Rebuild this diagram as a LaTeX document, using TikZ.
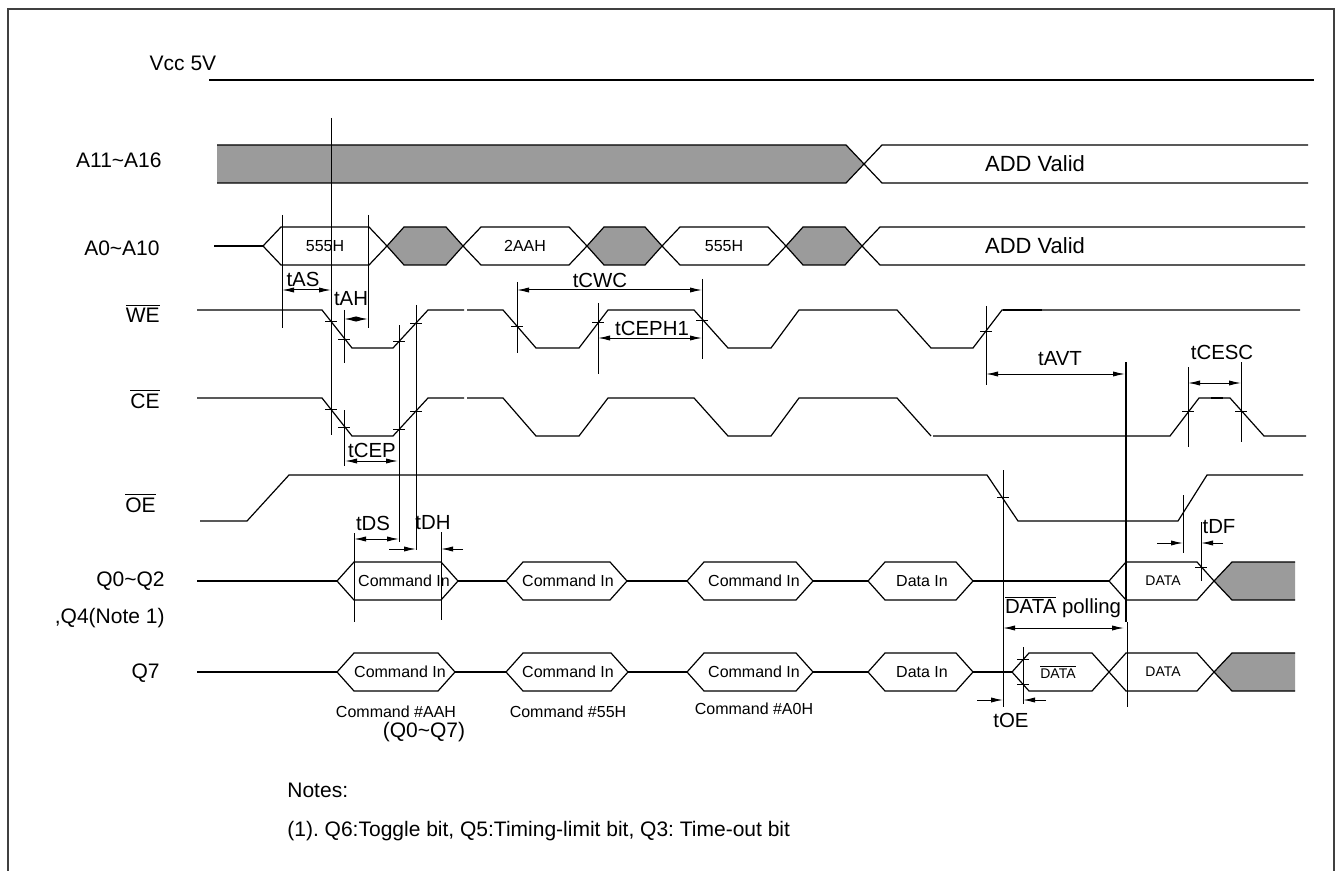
\documentclass[tikz,border=0pt]{standalone}
\usepackage{fontspec}
\setmainfont{Liberation Sans}
\frenchspacing
\usetikzlibrary{arrows.meta}
\definecolor{busgray}{RGB}{155,155,155}
\tikzstyle{frame}=[draw=black!75,line width=1pt]
\tikzstyle{signal}=[draw,line width=0.6pt]
\tikzstyle{bus}=[draw,line width=0.6pt,fill=white]
\tikzstyle{invalid}=[draw,line width=0.6pt,fill=busgray]
\tikzstyle{guide}=[draw,line width=0.4pt]
\tikzstyle{dim}=[draw,line width=0.5pt,{Latex[length=6pt,width=2.6pt]}-{Latex[length=6pt,width=2.6pt]}]
\tikzstyle{into}=[draw,line width=0.5pt,-{Latex[length=6pt,width=2.6pt]}]
\tikzstyle{signame}=[anchor=east,inner sep=0pt,font=\fontsize{10.5}{12}\selectfont]
\tikzstyle{timing}=[inner sep=0pt,font=\fontsize{10.2}{12}\selectfont]
\tikzstyle{busval}=[inner sep=0pt,font=\fontsize{8}{10}\selectfont]
\tikzstyle{note}=[inner sep=0pt,font=\fontsize{10.5}{12}\selectfont]

\begin{document}
\begin{tikzpicture}[x=0.5pt,y=-0.5pt]
\useasboundingbox (0,0) rectangle (1336,871);
\draw[frame] (8,871) -- (8,9) -- (1334,9) -- (1334,871);

% First we draw the signal names
\foreach \pos/\name/\txt in {{(162,160)/nHigh/A11\textasciitilde A16}, {(160,248)/nLow/A0\textasciitilde A10},
		{(160,313)/nWE/$\overline{\mbox{WE}}$}, {(160,399)/nCE/$\overline{\mbox{CE}}$},
		{(156,503)/nOE/$\overline{\mbox{OE}}$}, {(165,581)/nQ/Q0\textasciitilde Q2}, {(160,673)/nQs/Q7}}
	\node[signame] (\name) at \pos {\txt};
\node[signame] (nNote) at (165,618) {,Q4(Note 1)};
\node[note] (nVcc) at (183,63) {Vcc 5V};

% Supply and address buses
\draw[signal] (209,80) -- (1314,80);
\fill[busgray] (217,145) -- (846,145) -- (864,164) -- (846,183) -- (217,183) -- cycle;
\draw[signal] (217,145) -- (846,145) -- (882,183) -- (1308,183);
\draw[signal] (217,183) -- (846,183) -- (882,145) -- (1308,145);
\node[note, font=\fontsize{11}{12}\selectfont] (addHigh) at (1035,164) {ADD Valid};

\draw[signal] (214,246) -- (263,246);
\foreach \l/\r/\name/\txt in {263/387/adA/555H, 463/587/adB/2AAH, 662/786/adC/555H} {
	\draw[bus] (\l,246) -- ({\l+18},227) -- ({\r-18},227) -- (\r,246) -- ({\r-18},265) -- ({\l+18},265) -- cycle;
	\node[busval] (\name) at ({(\l+\r)/2},246) {\txt};
}
\foreach \l/\r in {387/463, 587/662, 786/862}
	\draw[invalid] (\l,246) -- ({\l+17},227) -- ({\r-17},227) -- (\r,246) -- ({\r-17},265) -- ({\l+17},265) -- cycle;
\draw[signal] (1305,227) -- (880,227) -- (862,246) -- (880,265) -- (1305,265);
\node[note, font=\fontsize{11}{12}\selectfont] (addLow) at (1035,246) {ADD Valid};

% Control strobes
\draw[signal] (197,310) -- (322,310) -- (352,348) -- (393,348) -- (428,310) -- (464,310);
\draw[signal] (467,310) -- (503,310) -- (536,348) -- (579,348) -- (608,310) -- (694,310) -- (728,348)
	-- (771,348) -- (799,310) -- (897,310) -- (931,348) -- (973,348) -- (1002,310) -- (1300,310);
\draw[line width=1.3pt] (1003,310) -- (1042,310);

\draw[signal] (197,398) -- (322,398) -- (352,436) -- (393,436) -- (428,398) -- (464,398);
\draw[signal] (467,398) -- (503,398) -- (536,436) -- (579,436) -- (608,398) -- (694,398) -- (728,436)
	-- (771,436) -- (799,398) -- (897,398) -- (931,436);
\draw[signal] (933,436) -- (1170,436) -- (1199,398) -- (1230,398) -- (1264,436) -- (1306,436);
\draw[line width=1.3pt] (1211,398) -- (1223,398);

\draw[signal] (200,521) -- (247,521) -- (289,475) -- (987,475) -- (1018,521) -- (1178,521) -- (1207,475) -- (1303,475);

% Data outputs
\draw[signal] (197,581) -- (1109,581);
\foreach \l/\r/\tx/\name/\txt in {337/458/404/qA/Command In, 506/627/568/qB/Command In, 687/813/754/qC/Command In,
		868/973/922/qD/Data In, 1109/1214/1163/qE/{\fontsize{7}{8}\selectfont DATA}} {
	\draw[bus] (\l,581) -- ({\l+17},562) -- ({\r-17},562) -- (\r,581) -- ({\r-17},600) -- ({\l+17},600) -- cycle;
	\node[busval] (\name) at (\tx,581) {\txt};
}
\draw[invalid] (1295,562) -- (1232,562) -- (1214,581) -- (1232,600) -- (1295,600);

\draw[signal] (197,672) -- (1012,672);
\foreach \l/\r/\tx/\name/\txt in {337/455/400/sA/Command In, 506/628/568/sB/Command In, 687/813/754/sC/Command In,
		868/973/922/sD/Data In, 1012/1109/1058/sE/{\fontsize{7}{8}\selectfont$\overline{\mbox{DATA}}$},
		1109/1214/1163/sF/{\fontsize{7}{8}\selectfont DATA}} {
	\draw[bus] (\l,672) -- ({\l+17},653) -- ({\r-17},653) -- (\r,672) -- ({\r-17},691) -- ({\l+17},691) -- cycle;
	\node[busval] (\name) at (\tx,672) {\txt};
}
\draw[invalid] (1295,653) -- (1232,653) -- (1214,672) -- (1232,691) -- (1295,691);

\node[busval] (cmdA) at (396,712) {Command \#AAH};
\node[busval] (cmdB) at (568,712) {Command \#55H};
\node[busval] (cmdC) at (754,709) {Command \#A0H};
\node[note] (cmdBits) at (424,732) {(Q0\textasciitilde Q7)};

% Reference lines and crossing marks
\foreach \x/\ya/\yb in {331/118/435, 282/215/328, 368/215/328, 344/310/363, 344/410/466, 399/325/542,
		416/305/550, 354/533/622, 441/532/620, 517/282/353, 702/279/359, 598/303/374, 986/306/385,
		1188/367/447, 1241/362/442, 1183/495/553, 1201/522/581, 1003/470/707, 1023/647/704, 1127/622/707}
	\draw[guide] (\x,\ya) -- (\x,\yb);
\draw[line width=1.3pt] (1126,362) -- (1126,622);
\foreach \pos in {(331,321), (344,339), (399,341), (416,323), (331,409), (344,427), (399,429), (416,411),
		(517,326), (702,320), (598,322), (986,331), (1188,411), (1241,411), (1003,497), (1201,567),
		(1023,659), (1023,684)}
	\draw[guide] \pos ++(-6,0) -- ++(12,0);

% Timing parameters
\draw[dim] (282,290) -- (331,290);
\node[timing] (tAS) at (303,279) {tAS};
\draw[dim] (344,319) -- (368,319);
\node[timing] (tAH) at (351,299) {tAH};
\draw[dim] (345,461) -- (398,461);
\node[timing] (tCEP) at (372,450) {tCEP};
\draw[dim] (354,539) -- (399,539);
\node[timing] (tDS) at (373,523) {tDS};
\draw[into] (389,549) -- (416,549);
\draw[into] (463,549) -- (441,549);
\node[timing] (tDH) at (433,523) {tDH};
\draw[dim] (517,290) -- (702,290);
\node[timing] (tCWC) at (600,280) {tCWC};
\draw[dim] (598,338) -- (702,338);
\node[timing] (tCEPH) at (652,328) {tCEPH1};
\draw[dim] (986,374) -- (1125,374);
\node[timing] (tAVT) at (1060,359) {tAVT};
\draw[dim] (1188,383) -- (1241,383);
\node[timing] (tCESC) at (1222,352) {tCESC};
\draw[into] (1157,543) -- (1183,543);
\draw[into] (1223,543) -- (1201,543);
\node[timing] (tDF) at (1219,527) {tDF};
\draw[dim] (1003,628) -- (1124,628);
\node[timing] (poll) at (1063,607) {$\overline{\mbox{DATA}}$ polling};
\draw[into] (977,700) -- (1003,700);
\draw[into] (1046,700) -- (1023,700);
\node[timing] (tOE) at (1011,720) {tOE};

% Notes
\node[note, anchor=west] (notes) at (287,790) {Notes:};
\node[note, anchor=west] (noteOne) at (287,831) {(1). Q6:Toggle bit, Q5:Timing-limit bit, Q3: Time-out bit};
\end{tikzpicture}
\end{document}
